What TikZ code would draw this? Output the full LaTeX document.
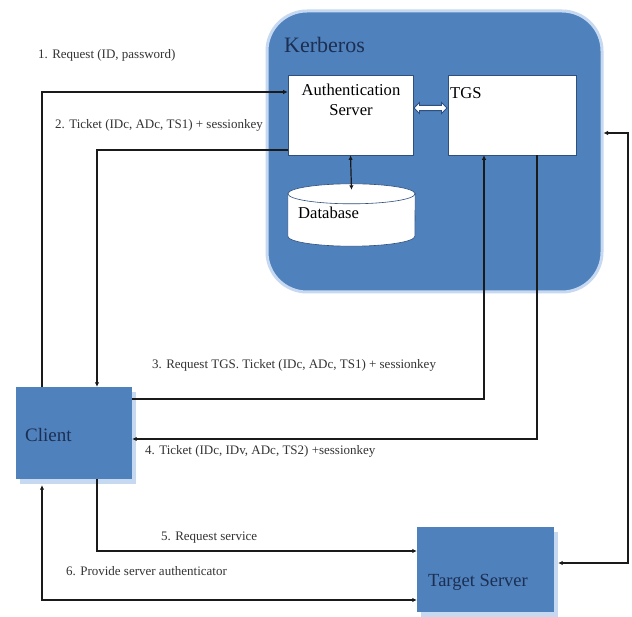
\documentclass[tikz,border=0pt]{standalone}
\usepackage{fontspec}
\setmainfont{Liberation Serif}
\usetikzlibrary{arrows.meta,shapes.arrows,shadows}
\definecolor{kblue}{HTML}{4F81BD}
\definecolor{kglow}{HTML}{C6D9F1}
\definecolor{knavy}{HTML}{1C2F52}
\definecolor{kline}{HTML}{1A1A1A}
\definecolor{kedge}{HTML}{2F4F7F}
\definecolor{ktext}{HTML}{333333}
\tikzset{
  conn/.style={draw=kline, line width=1.2pt, -{Latex[length=4.5pt,width=4.5pt]}},
  conn2/.style={draw=kline, line width=1.2pt, {Latex[length=4.5pt,width=4.5pt]}-{Latex[length=4.5pt,width=4.5pt]}},
  whitebox/.style={draw=kedge, line width=0.6pt, fill=white, inner sep=0pt},
  bluebox/.style={fill=kblue, inner sep=0pt, drop shadow={shadow xshift=4pt, shadow yshift=-5pt, fill=kglow, opacity=1}},
  lbl/.style={font=\fontsize{13}{15}\selectfont, text=ktext, anchor=west, inner sep=0pt},
  boxtxt/.style={font=\fontsize{16.6}{20}\selectfont, text=black, inner sep=0pt},
}
\begin{document}
\begin{tikzpicture}[x=1pt, y=-1pt]
\useasboundingbox (0,0) rectangle (632,617);
\fill[white] (0,0) rectangle (632,617);
% Kerberos container
\node[draw=kglow, line width=3pt, fill=kblue, rounded corners=40pt, minimum width=335pt, minimum height=281pt, inner sep=0pt] (kerb) at (434.5,151.5) {};
\node[font=\fontsize{22}{26}\selectfont, text=knavy, anchor=west, inner sep=0pt] (kerbl) at (284,45) {Kerberos};
% Inner boxes
\node[whitebox, minimum width=125pt, minimum height=80pt] (as) at (350.5,115) {};
\node[boxtxt, align=center, anchor=north] (astxt) at (351,84) {Authentication\\Server};
\node[whitebox, minimum width=128pt, minimum height=80pt] (tgs) at (512,115) {};
\node[boxtxt, anchor=west] (tgstxt) at (450,93) {TGS};
% double arrow between AS and TGS
\node[double arrow, draw=kedge, fill=white, line width=0.9pt, minimum height=33pt, minimum width=11pt, inner sep=1.8pt, double arrow head extend=2.5pt] (dbl) at (430.5,108) {};
% Database cylinder
\node[minimum width=127pt, minimum height=62pt, inner sep=0pt] (db) at (351.5,215) {};
\draw[draw=kedge, line width=0.6pt, fill=white] ([yshift=-10pt]db.north west) -- ([yshift=10pt]db.south west) arc[start angle=180, end angle=0, x radius=63.5, y radius=10] -- ([yshift=-10pt]db.north east) -- cycle;
\draw[draw=kedge, line width=0.6pt, fill=white] ([yshift=-10pt]db.north) ellipse [x radius=63.5, y radius=10];
\node[boxtxt, anchor=west] (dbtxt) at (298,213) {Database};
% Client and Target
\node[bluebox, minimum width=116pt, minimum height=92pt] (client) at (74,433) {};
\node[font=\fontsize{19}{22}\selectfont, text=knavy, anchor=west, inner sep=0pt] (clienttxt) at (25,435) {Client};
\node[bluebox, minimum width=137pt, minimum height=85pt] (target) at (485.5,569.5) {};
\node[font=\fontsize{18.5}{22}\selectfont, text=knavy, inner sep=0pt] (targettxt) at (478,582) {Target Server};
% bend points
\coordinate (b1) at (42,92);
\coordinate (b2) at (97,150);
\coordinate (b3) at (484,399);
\coordinate (b4) at (537,439);
\coordinate (b5) at (97,551);
\coordinate (b6) at (42,600);
\coordinate (b7a) at (628,563);
\coordinate (b7b) at (628,133);
% connectors
\draw[conn] (b1 |- client.north) -- (b1) -- (b1 -| as.west);
\draw[conn] (b2 -| as.west) -- (b2) -- (b2 |- client.north);
\draw[conn] (b3 -| client.east) -- (b3) -- (b3 |- tgs.south);
\draw[conn] (b4 |- tgs.south) -- (b4) -- (b4 -| client.east);
\draw[conn] (b5 |- client.south) -- (b5) -- (b5 -| target.west);
\draw[conn2] (b6 -| target.west) -- (b6) -- ([yshift=-6pt]b6 |- client.south);
\draw[conn2] ([xshift=4pt]b7a -| target.east) -- (b7a) -- (b7b) -- (b7b -| kerb.east);
\draw[conn2] (as.south) -- ([yshift=-6pt]db.north);
% labels
\node[lbl] (l1) at (38,55) {1. Request (ID, password)};
\node[lbl] (l2) at (55,125) {2. Ticket (IDc, ADc, TS1) + sessionkey};
\node[lbl] (l3) at (152,365) {3. Request TGS. Ticket (IDc, ADc, TS1) + sessionkey};
\node[lbl] (l4) at (145,451) {4. Ticket (IDc, IDv, ADc, TS2) +sessionkey};
\node[lbl] (l5) at (161,538) {5. Request service};
\node[lbl] (l6) at (66,571) {6. Provide server authenticator};
\end{tikzpicture}
\end{document}
